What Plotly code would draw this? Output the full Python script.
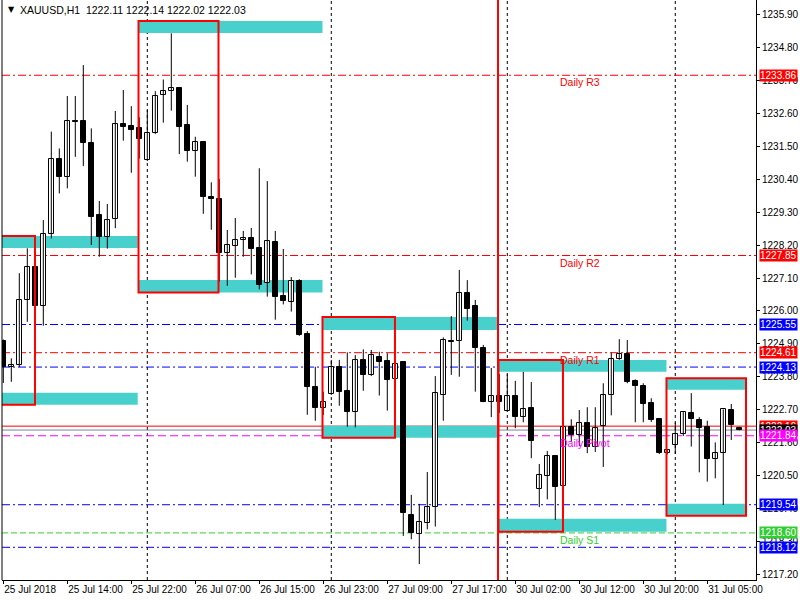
import plotly.graph_objects as go

# XAUUSD H1 candles, bar index 0..92 (left to right)
opens = [1225.00, 1224.12, 1224.19, 1226.37, 1227.46, 1226.18, 1228.56, 1231.06, 1230.46, 1232.32,
         1232.32, 1231.59, 1229.19, 1228.48, 1229.06, 1232.22, 1232.17, 1232.10, 1231.02, 1231.92,
         1233.19, 1233.34, 1233.42, 1232.19, 1231.34, 1231.62, 1229.79, 1229.73, 1227.94, 1228.18,
         1228.36, 1228.42, 1228.09, 1226.92, 1228.29, 1226.50, 1226.31, 1226.99, 1225.22, 1223.46,
         1222.76, 1223.22, 1224.12, 1223.33, 1222.64, 1224.37, 1223.88, 1224.47, 1224.33, 1223.72,
         1224.29, 1219.20, 1218.56, 1218.92, 1219.46, 1223.19, 1225.00, 1224.99, 1226.59, 1226.17,
         1224.76, 1222.96, 1223.16, 1222.68, 1223.17, 1222.48, 1222.77, 1220.06, 1220.51, 1221.17,
         1220.16, 1222.12, 1221.86, 1222.26, 1221.46, 1222.16, 1223.19, 1224.39, 1224.56, 1223.67,
         1223.50, 1222.92, 1222.39, 1221.26, 1221.52, 1221.89, 1222.60, 1222.37, 1222.14, 1221.06,
         1221.26, 1222.70, 1222.11]
highs = [1225.05, 1224.42, 1227.26, 1228.09, 1227.67, 1229.03, 1231.98, 1231.42, 1233.17, 1233.17,
         1234.20, 1232.09, 1229.67, 1229.57, 1232.67, 1233.37, 1232.83, 1232.46, 1232.70, 1233.33,
         1233.72, 1235.26, 1233.44, 1232.87, 1231.81, 1231.64, 1230.29, 1230.40, 1228.70, 1229.10,
         1228.67, 1228.77, 1230.76, 1230.33, 1228.67, 1228.07, 1227.13, 1227.06, 1225.33, 1224.14,
         1223.31, 1224.37, 1224.37, 1224.62, 1224.53, 1224.72, 1224.70, 1224.64, 1224.59, 1224.24,
         1224.31, 1219.87, 1219.57, 1220.63, 1223.83, 1225.12, 1225.83, 1227.37, 1227.03, 1226.37,
         1224.87, 1224.10, 1223.90, 1223.89, 1223.67, 1223.97, 1223.63, 1220.90, 1221.33, 1221.20,
         1222.39, 1222.39, 1222.70, 1222.79, 1222.79, 1223.59, 1224.61, 1225.06, 1225.03, 1223.72,
         1223.59, 1223.09, 1222.40, 1221.38, 1222.28, 1222.63, 1223.26, 1222.46, 1222.34, 1221.62,
         1222.72, 1222.90, 1222.14]
lows = [1223.60, 1223.64, 1224.13, 1225.64, 1225.72, 1225.51, 1228.42, 1229.92, 1230.09, 1231.14,
        1230.83, 1228.20, 1227.81, 1228.08, 1228.76, 1231.68, 1230.61, 1231.08, 1231.00, 1231.90,
        1232.28, 1232.68, 1231.23, 1230.98, 1230.48, 1229.24, 1228.71, 1226.98, 1226.84, 1227.11,
        1227.81, 1227.22, 1226.72, 1226.48, 1225.71, 1226.22, 1225.98, 1225.17, 1222.54, 1222.34,
        1222.53, 1223.20, 1222.84, 1222.14, 1222.12, 1223.34, 1223.83, 1223.18, 1222.68, 1223.42,
        1218.50, 1218.39, 1217.56, 1218.72, 1218.81, 1222.34, 1223.87, 1223.81, 1225.68, 1223.31,
        1222.96, 1222.46, 1222.60, 1222.66, 1222.09, 1222.29, 1221.09, 1219.46, 1219.72, 1219.03,
        1219.22, 1221.63, 1221.49, 1221.26, 1221.30, 1220.80, 1222.52, 1224.37, 1223.59, 1222.29,
        1222.29, 1222.30, 1221.23, 1221.22, 1221.23, 1221.83, 1221.48, 1220.62, 1220.31, 1220.42,
        1219.53, 1221.70, 1222.02]
closes = [1224.13, 1224.21, 1226.37, 1227.46, 1226.18, 1228.57, 1231.06, 1230.46, 1232.32, 1232.30,
          1231.61, 1229.12, 1228.48, 1229.02, 1232.22, 1232.14, 1232.04, 1231.74, 1231.92, 1233.16,
          1233.35, 1233.42, 1232.14, 1231.34, 1231.62, 1229.79, 1229.72, 1227.94, 1228.19, 1228.36,
          1228.42, 1228.06, 1226.88, 1228.32, 1226.48, 1226.34, 1226.99, 1225.20, 1223.46, 1222.78,
          1222.96, 1224.12, 1223.31, 1222.64, 1224.37, 1223.86, 1224.52, 1224.31, 1223.69, 1224.24,
          1219.26, 1218.59, 1218.96, 1219.46, 1223.26, 1225.02, 1224.98, 1226.59, 1226.06, 1224.76,
          1222.96, 1223.17, 1222.98, 1223.17, 1222.48, 1222.72, 1221.68, 1220.53, 1221.17, 1220.14,
          1222.12, 1221.86, 1222.26, 1221.46, 1222.09, 1223.19, 1224.39, 1224.56, 1223.62, 1223.49,
          1222.91, 1222.38, 1221.28, 1221.36, 1221.90, 1222.63, 1222.41, 1222.11, 1221.08, 1221.26,
          1222.72, 1222.21, 1222.03]

time_ticks = [0, 8, 16, 24, 32, 40, 48, 56, 64, 72, 80, 88]
time_labels = ["25 Jul 2018", "25 Jul 14:00", "25 Jul 22:00", "26 Jul 07:00", "26 Jul 15:00",
               "26 Jul 23:00", "27 Jul 09:00", "27 Jul 17:00", "30 Jul 02:00", "30 Jul 12:00",
               "30 Jul 20:00", "31 Jul 05:00"]
price_ticks = [1217.20, 1218.30, 1219.40, 1220.50, 1221.60, 1222.70, 1223.80, 1224.90, 1226.00,
               1227.10, 1228.20, 1229.30, 1230.40, 1231.50, 1232.60, 1233.70, 1234.80, 1235.90]
day_breaks = [18, 41, 63, 84]
vline_at = 61.84

# supply / demand zones
zone_x0 = [-1, 16.9, 39.9, 61.9, 82.9]
zone_x1 = [3.96, 26.9, 48.96, 69.96, 92.84]
zone_ext = [16.8, 39.9, 61.84, 82.9, 92.84]
zone_top = [1228.50, 1235.67, 1225.80, 1224.37, 1223.76]
zone_top_in = [1228.10, 1235.27, 1225.37, 1223.97, 1223.37]
zone_bot_in = [1223.27, 1227.03, 1222.17, 1219.07, 1219.57]
zone_bot = [1222.87, 1226.62, 1221.77, 1218.64, 1219.17]

# pivot levels
level_price = [1233.86, 1227.85, 1225.55, 1224.61, 1224.13, 1221.84, 1219.54, 1218.60, 1218.12]
level_color = ["#FF0000", "#FF0000", "#0000FF", "#FF0000", "#0000FF", "#FF00FF", "#0000FF",
               "#32CD32", "#0000FF"]
level_dash = ["8px,3px,2px,3px"] * 5 + ["8px,4px", "8px,3px,2px,3px", "6px,3px", "8px,3px,2px,3px"]
level_names = {1233.86: "Daily R3", 1227.85: "Daily R2", 1224.61: "Daily R1",
               1221.84: "Daily Pivot", 1218.60: "Daily S1"}
red_line = 1222.16
bid = 1222.03

FONT = "Liberation Sans"
CYAN = "#48D1CC"

fig = go.Figure()

# wicks
wx, wy = [], []
for i, (h, l) in enumerate(zip(highs, lows)):
    wx += [i, i, None]
    wy += [l, h, None]
fig.add_trace(go.Scatter(x=wx, y=wy, mode="lines", line=dict(color="black", width=1),
                         hoverinfo="skip", showlegend=False))

# bodies
for up in (True, False):
    idx = [i for i in range(len(opens)) if (closes[i] >= opens[i]) == up]
    base = [min(opens[i], closes[i]) for i in idx]
    hgt = [max(abs(closes[i] - opens[i]), 0.03) for i in idx]
    fig.add_trace(go.Bar(x=idx, y=hgt, base=base, width=0.6,
                         marker=dict(color="white" if up else "black",
                                     line=dict(color="black", width=1)),
                         hoverinfo="skip", showlegend=False))

shapes = []
for i in range(len(zone_x0)):
    shapes.append(dict(type="rect", xref="x", yref="y", x0=zone_x0[i], x1=zone_ext[i],
                       y0=zone_top_in[i], y1=zone_top[i], fillcolor=CYAN, line_width=0,
                       layer="below"))
    shapes.append(dict(type="rect", xref="x", yref="y", x0=zone_x0[i], x1=zone_ext[i],
                       y0=zone_bot[i], y1=zone_bot_in[i], fillcolor=CYAN, line_width=0,
                       layer="below"))
for d in day_breaks:
    shapes.append(dict(type="line", xref="x", yref="paper", x0=d, x1=d, y0=0, y1=1,
                       line=dict(color="black", width=1, dash="3px,3px"), layer="below"))
for p, c, ds in zip(level_price, level_color, level_dash):
    shapes.append(dict(type="line", xref="paper", yref="y", x0=0, x1=1, y0=p, y1=p,
                       line=dict(color=c, width=1, dash=ds), layer="below"))
shapes.append(dict(type="line", xref="paper", yref="y", x0=0, x1=1, y0=red_line, y1=red_line,
                   line=dict(color="#FF0000", width=1), layer="below"))
shapes.append(dict(type="line", xref="paper", yref="y", x0=0, x1=1, y0=bid, y1=bid,
                   line=dict(color="#778899", width=1), layer="below"))
for i in range(len(zone_x0)):
    shapes.append(dict(type="rect", xref="x", yref="y", x0=zone_x0[i], x1=zone_x1[i],
                       y0=zone_bot[i], y1=zone_top[i], line=dict(color="#FF0000", width=2),
                       layer="above"))
shapes.append(dict(type="line", xref="x", yref="paper", x0=vline_at, x1=vline_at, y0=0, y1=1,
                   line=dict(color="#FF0000", width=2), layer="above"))
shapes.append(dict(type="line", xref="paper", yref="paper", x0=0, x1=0, y0=0, y1=1,
                   line=dict(color="black", width=1)))

annotations = []
for p, c in zip(level_price, level_color):
    if p in level_names:
        annotations.append(dict(x=69.5, y=p, xref="x", yref="y", text=level_names[p],
                                xanchor="left", yanchor="top", showarrow=False, borderpad=0,
                                font=dict(family=FONT, size=10.5, color=c)))

# price labels on the axis
boxes = [(1233.86, "#FF0000"), (1227.85, "#FF0000"), (1225.55, "#0000FF"), (1224.61, "#FF0000"),
         (1224.13, "#0000FF"), (red_line, "#FF0000"), (bid, "black"), (1221.84, "#FF00FF"),
         (1219.54, "#0000FF"), (1218.60, "#32CD32"), (1218.12, "#0000FF")]
for p, c in boxes:
    annotations.append(dict(x=1, y=p, xref="paper", yref="y", text=f"{p:.2f}", xanchor="left",
                            yanchor="middle", xshift=3, showarrow=False, bgcolor=c, borderpad=0,
                            font=dict(family=FONT, size=10, color="white")))

annotations.append(dict(x=0, y=1, xref="paper", yref="paper", xanchor="left", yanchor="top",
                        xshift=4, yshift=-3, showarrow=False,
                        text="▼", font=dict(family="DejaVu Sans", size=8, color="black")))
annotations.append(dict(x=0, y=1, xref="paper", yref="paper", xanchor="left", yanchor="top",
                        xshift=16, yshift=-2, showarrow=False,
                        text="XAUUSD,H1  1222.11 1222.14 1222.02 1222.03",
                        font=dict(family=FONT, size=10.5, color="black")))

fig.update_layout(
    width=800, height=600,
    margin=dict(l=2, r=44, t=0, b=20),
    paper_bgcolor="white", plot_bgcolor="white",
    barmode="overlay", bargap=0,
    showlegend=False,
    font=dict(family=FONT, size=10, color="black"),
    shapes=shapes, annotations=annotations,
    xaxis=dict(range=[-0.1625, 94.09], showgrid=False, zeroline=False, showline=True,
               linecolor="black", linewidth=1, ticks="outside", ticklen=3, tickcolor="black",
               tickvals=time_ticks, ticktext=time_labels, ticklabelposition="outside right",
               tickfont=dict(family=FONT, size=10)),
    yaxis=dict(range=[1217.03, 1236.37], side="right", showgrid=False, zeroline=False,
               showline=True, linecolor="black", linewidth=1, ticks="outside", ticklen=3,
               tickcolor="black", tickvals=price_ticks, ticktext=[f"{v:.2f}" for v in price_ticks],
               tickfont=dict(family=FONT, size=10)),
)

fig.write_html("out.html", config={"displayModeBar": False},
               post_script="document.body.style.margin='0';")
